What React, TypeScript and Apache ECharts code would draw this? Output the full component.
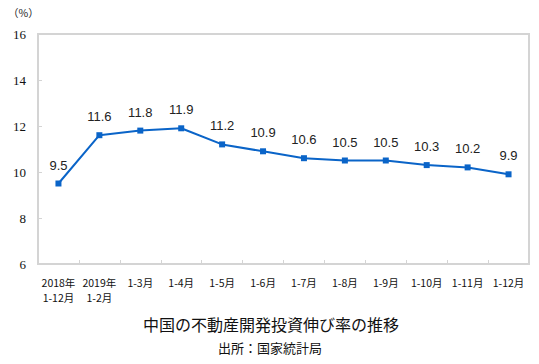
import React, { useEffect, useRef } from "react";
import * as echarts from "echarts";

const categories = [
  "2018年\n1-12月",
  "2019年\n1-2月",
  "1-3月",
  "1-4月",
  "1-5月",
  "1-6月",
  "1-7月",
  "1-8月",
  "1-9月",
  "1-10月",
  "1-11月",
  "1-12月",
];
const values = [9.5, 11.6, 11.8, 11.9, 11.2, 10.9, 10.6, 10.5, 10.5, 10.3, 10.2, 9.9];
const yMin = 6;
const yMax = 16;
const yInterval = 2;
const titleText = "中国の不動産開発投資伸び率の推移";
const subText = "出所：国家統計局";
const unitText = "（%）";

export default function App() {
  const ref = useRef<HTMLDivElement>(null);
  useEffect(() => {
    document.body.style.margin = "0";
    if (!ref.current) return;
    const chart = echarts.init(ref.current, undefined, { renderer: "svg" });
    const axisColor = "#d4d4d4";
    chart.setOption({
      animation: false,
      backgroundColor: "#ffffff",
      grid: {
        left: 38,
        top: 34,
        right: 10,
        bottom: 100,
        show: true,
        borderColor: axisColor,
        borderWidth: 2,
        containLabel: false,
      },
      title: [
        {
          text: titleText,
          left: 138,
          top: 311,
          textStyle: {
            fontFamily: "Noto Sans CJK JP",
            fontSize: 16,
            fontWeight: "normal",
            color: "#111111",
          },
        },
        {
          text: subText,
          left: 213,
          top: 336,
          textStyle: {
            fontFamily: "Noto Sans CJK JP",
            fontSize: 13,
            fontWeight: "normal",
            color: "#111111",
          },
        },
      ],
      graphic: [
        {
          type: "text",
          left: 8,
          top: 7,
          style: {
            text: unitText,
            fontFamily: "Noto Sans CJK JP",
            fontSize: 10.5,
            fill: "#222222",
          },
        },
      ],
      xAxis: {
        type: "category",
        data: categories,
        boundaryGap: true,
        axisLine: { show: true, lineStyle: { color: axisColor, width: 2 } },
        axisTick: { show: true, inside: true, length: 4, lineStyle: { color: axisColor } },
        axisLabel: {
          interval: 0,
          margin: 11,
          fontFamily: "Noto Sans CJK JP",
          fontSize: 10.5,
          color: "#111111",
          lineHeight: 15,
        },
        splitLine: { show: false },
      },
      yAxis: {
        type: "value",
        min: yMin,
        max: yMax,
        interval: yInterval,
        axisLine: { show: true, lineStyle: { color: axisColor, width: 2 } },
        axisTick: { show: true, inside: true, length: 4, lineStyle: { color: axisColor } },
        axisLabel: {
          margin: 12,
          fontFamily: "'Liberation Serif', 'DejaVu Serif', serif",
          fontSize: 13,
          color: "#111111",
        },
        splitLine: { show: false },
      },
      series: [
        {
          type: "line",
          data: values,
          symbol: "rect",
          symbolSize: 6,
          lineStyle: { color: "#0a64c8", width: 2 },
          itemStyle: { color: "#0a64c8" },
          label: {
            show: true,
            position: "top",
            distance: 9,
            fontFamily: "Liberation Sans",
            fontSize: 13,
            color: "#222222",
            formatter: (p: any) => p.value.toFixed(1),
          },
        },
      ],
    });
    return () => chart.dispose();
  }, []);
  return <div ref={ref} style={{ width: 539, height: 364 }} />;
}
